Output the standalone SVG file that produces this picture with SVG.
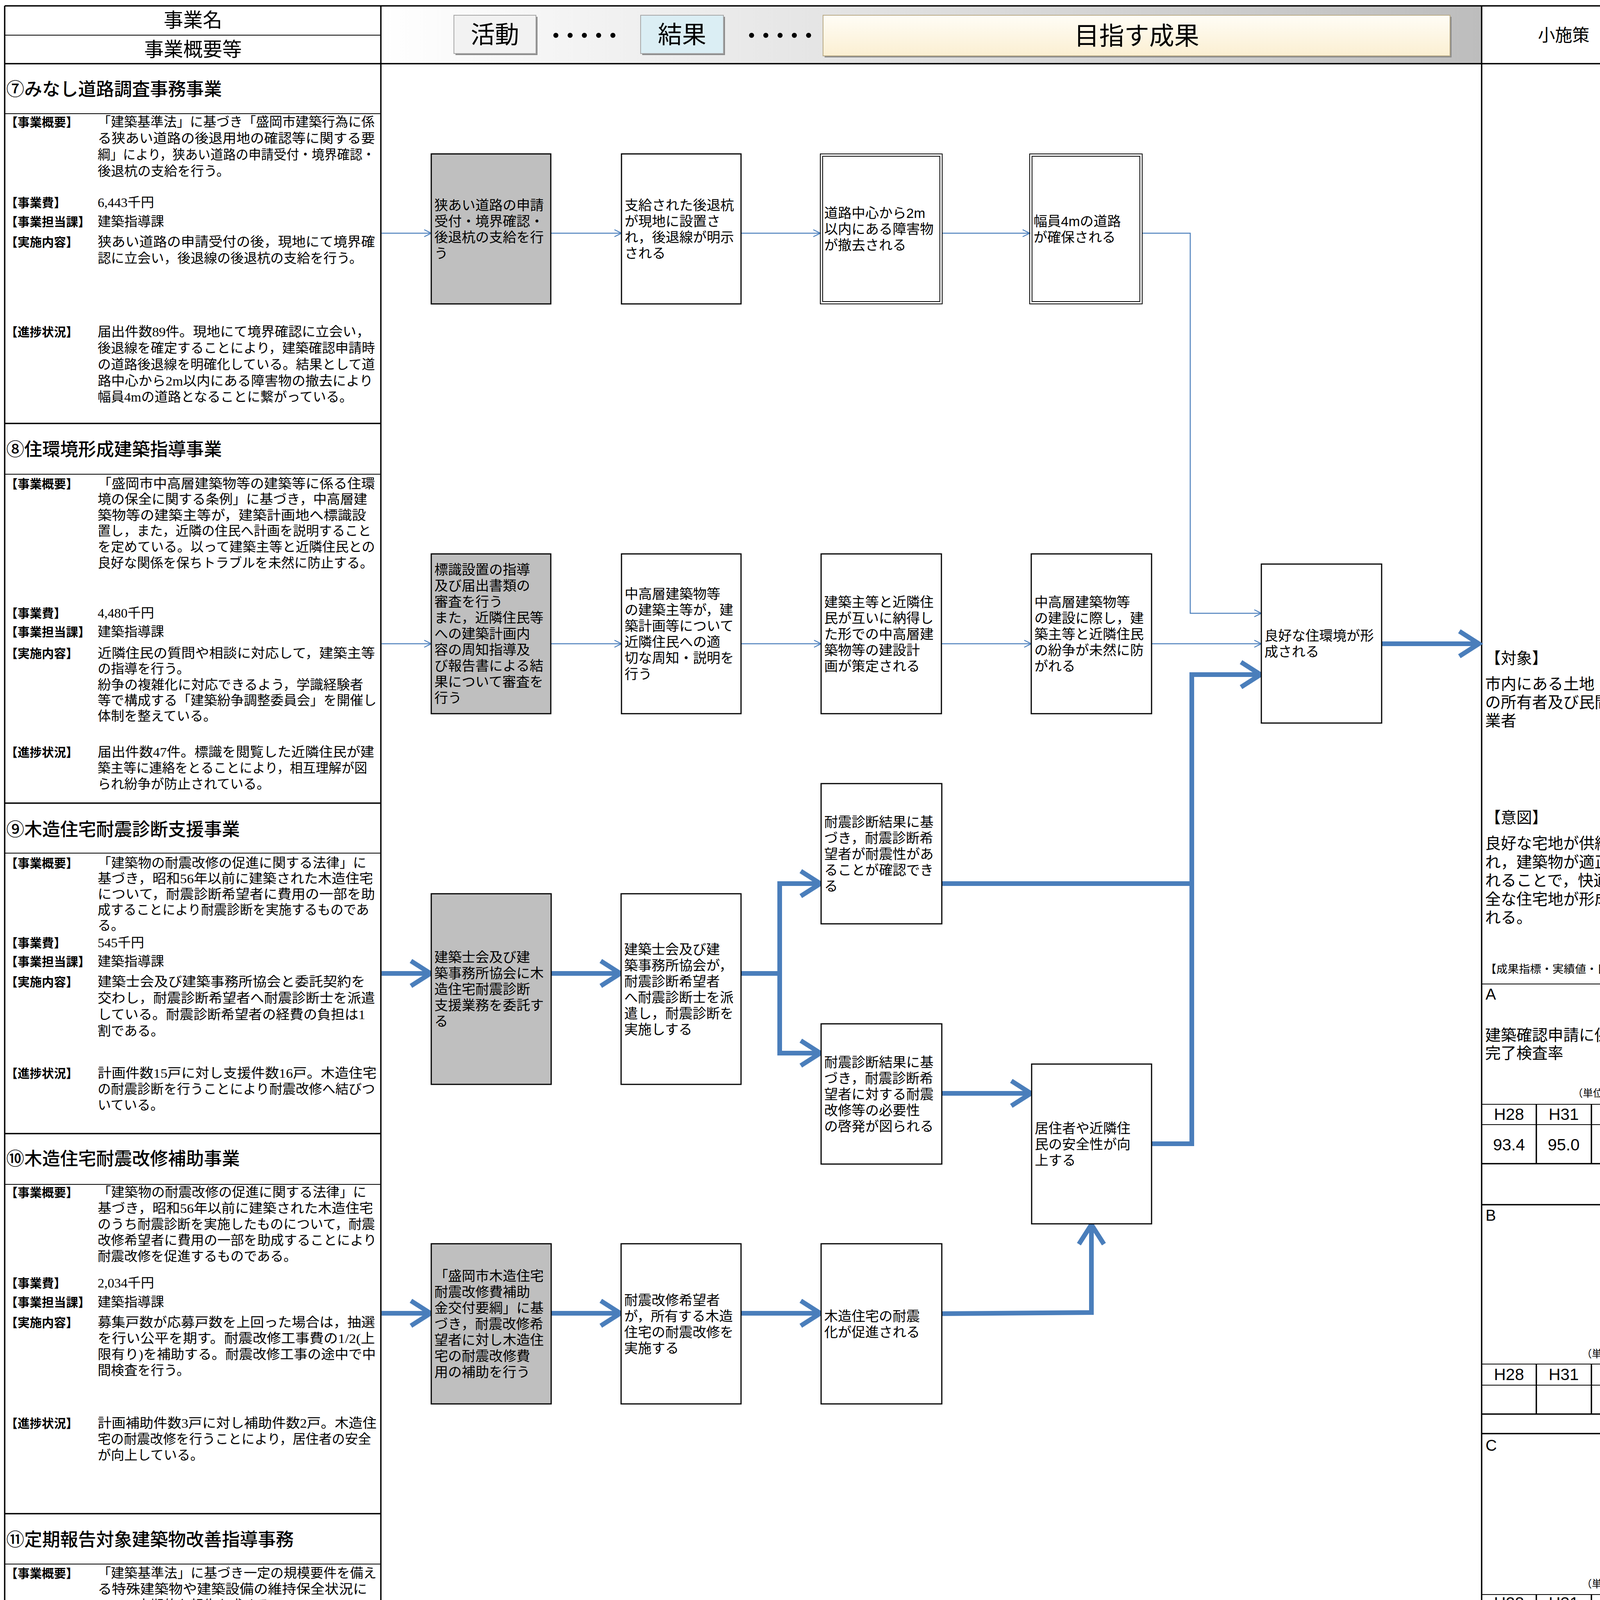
<svg xmlns="http://www.w3.org/2000/svg" width="4249" height="5716" viewBox="0 0 4249 5716">
<defs>
<style>
.t{font-family:"Liberation Serif","Noto Sans CJK JP",serif;font-size:34px;fill:#000}
.lb{font-family:"Noto Sans CJK JP",sans-serif;font-size:31px;font-weight:700;fill:#000}
.ttl{font-family:"Noto Sans CJK JP",sans-serif;font-size:46px;font-weight:500;fill:#000}
.hd{font-family:"Noto Sans CJK JP",sans-serif;font-size:50px;fill:#000}
.dots{font-family:"Noto Sans CJK JP",sans-serif;font-size:50px;font-weight:700;fill:#000}
.nd{font-family:"Liberation Sans","Noto Sans CJK JP",sans-serif;font-size:35px;fill:#000}
.rc{font-family:"Liberation Sans","Noto Sans CJK JP",sans-serif;font-size:40px;fill:#000}
.sm{font-family:"Liberation Sans","Noto Sans CJK JP",sans-serif;font-size:26px;fill:#000}
.tb{font-family:"Liberation Sans","Noto Sans CJK JP",sans-serif;font-size:42px;fill:#000;text-anchor:middle}
.bx{fill:#fff;stroke:#000;stroke-width:3}
.gy{fill:#bfbfbf;stroke:#000;stroke-width:3}
.db{fill:none;stroke:#000;stroke-width:2}
.ln{stroke:#000;stroke-width:2;fill:none}
.lk{stroke:#000;stroke-width:3.5;fill:none}
.thin{stroke:#4a7ebb;stroke-width:2.5;fill:none}
.thick{stroke:#4a7ebb;stroke-width:12;fill:none;stroke-linejoin:miter}
</style>
<linearGradient id="band" x1="0" y1="0" x2="1" y2="0">
<stop offset="0" stop-color="#ffffff"/><stop offset="1" stop-color="#bdbdbd"/>
</linearGradient>
<linearGradient id="goal" x1="0" y1="0" x2="0" y2="1">
<stop offset="0" stop-color="#fffdf6"/><stop offset="1" stop-color="#fbefd2"/>
</linearGradient>
<marker id="at" markerUnits="userSpaceOnUse" markerWidth="30" markerHeight="30" refX="22" refY="12" orient="auto" overflow="visible">
<path d="M4,3 L22,12 L4,21" fill="none" stroke="#4a7ebb" stroke-width="2.5"/>
</marker>
<marker id="ak" markerUnits="userSpaceOnUse" markerWidth="90" markerHeight="90" refX="64" refY="40" orient="auto" overflow="visible">
<path d="M12,8 L62,40 L12,72" fill="none" stroke="#4a7ebb" stroke-width="12" stroke-linejoin="miter"/>
</marker>
</defs>
<rect x="0" y="0" width="4249" height="5716" fill="#fff"/>

<!-- header band -->
<g id="header">
<rect x="975" y="15" width="2818" height="148" fill="url(#band)"/>
<rect x="1166" y="43" width="210" height="98" fill="#8c8c8c"/>
<rect x="1162" y="39" width="210" height="98" fill="#f2f2f2" stroke="#a6a6a6" stroke-width="2"/>
<text x="1267" y="111" class="hd" style="font-size:62px" text-anchor="middle">活動</text>
<text x="1398" y="109" class="dots" textLength="196" lengthAdjust="spacing">・・・・・</text>
<rect x="1644" y="43" width="212" height="98" fill="#8c8c8c"/>
<rect x="1640" y="39" width="212" height="98" fill="#dbeef4" stroke="#a6a6a6" stroke-width="2"/>
<text x="1746" y="111" class="hd" style="font-size:62px" text-anchor="middle">結果</text>
<text x="1899" y="109" class="dots" textLength="196" lengthAdjust="spacing">・・・・・</text>
<rect x="2111" y="43" width="1605" height="104" fill="#8c8c8c"/>
<rect x="2107" y="39" width="1605" height="104" fill="url(#goal)" stroke="#b8a984" stroke-width="2"/>
<text x="2910" y="114" class="hd" style="font-size:64px" text-anchor="middle">目指す成果</text>
</g>

<!-- frame -->
<g id="frame">
<line x1="12" y1="15" x2="4214" y2="15" class="lk"/>
<line x1="12" y1="15" x2="12" y2="5716" class="lk"/>
<line x1="975" y1="15" x2="975" y2="5716" class="lk"/>
<line x1="3793" y1="15" x2="3793" y2="5716" class="lk"/>
<line x1="4214" y1="15" x2="4214" y2="5716" class="lk" style="stroke-width:5"/>
<line x1="12" y1="90" x2="975" y2="90" class="ln"/>
<line x1="12" y1="163" x2="4214" y2="163" class="lk"/>
<line x1="12" y1="291" x2="975" y2="291" class="ln"/>
<line x1="12" y1="1084" x2="975" y2="1084" class="lk"/>
<line x1="12" y1="1214" x2="975" y2="1214" class="ln"/>
<line x1="12" y1="2056" x2="975" y2="2056" class="lk"/>
<line x1="12" y1="2184" x2="975" y2="2184" class="ln"/>
<line x1="12" y1="2902" x2="975" y2="2902" class="lk"/>
<line x1="12" y1="3032" x2="975" y2="3032" class="ln"/>
<line x1="12" y1="3875" x2="975" y2="3875" class="lk"/>
<line x1="12" y1="4004" x2="975" y2="4004" class="ln"/>
<line x1="12" y1="4849" x2="975" y2="4849" class="lk"/>
<line x1="12" y1="4978" x2="975" y2="4978" class="ln"/>
<text x="494" y="69" class="hd" text-anchor="middle">事業名</text>
<text x="494" y="144" class="hd" text-anchor="middle">事業概要等</text>
<text x="4003" y="106" class="hd" style="font-size:44px" text-anchor="middle">小施策</text>
</g>

<!-- left column: section 7 -->
<g id="sec7">
<text x="16" y="244" class="ttl">⑦みなし道路調査事務事業</text>
<text x="14" y="324" class="lb">【事業概要】</text>
<text x="250" y="324" class="t" textLength="709" lengthAdjust="spacingAndGlyphs">「建築基準法」に基づき「盛岡市建築行為に係</text>
<text x="250" y="366" class="t" textLength="710" lengthAdjust="spacingAndGlyphs">る狭あい道路の後退用地の確認等に関する要</text>
<text x="250" y="408" class="t" textLength="710" lengthAdjust="spacingAndGlyphs">綱」により，狭あい道路の申請受付・境界確認・</text>
<text x="250" y="450" class="t">後退杭の支給を行う。</text>
<text x="14" y="530" class="lb">【事業費】</text>
<text x="250" y="530" class="t">6,443千円</text>
<text x="14" y="579" class="lb">【事業担当課】</text>
<text x="250" y="579" class="t">建築指導課</text>
<text x="14" y="631" class="lb">【実施内容】</text>
<text x="250" y="631" class="t" textLength="710" lengthAdjust="spacingAndGlyphs">狭あい道路の申請受付の後，現地にて境界確</text>
<text x="250" y="673" class="t">認に立会い，後退線の後退杭の支給を行う。</text>
<text x="14" y="861" class="lb">【進捗状況】</text>
<text x="250" y="861" class="t" textLength="697" lengthAdjust="spacingAndGlyphs">届出件数89件。現地にて境界確認に立会い，</text>
<text x="250" y="903" class="t" textLength="710" lengthAdjust="spacingAndGlyphs">後退線を確定することにより，建築確認申請時</text>
<text x="250" y="945" class="t" textLength="710" lengthAdjust="spacingAndGlyphs">の道路後退線を明確化している。結果として道</text>
<text x="250" y="987" class="t" textLength="705" lengthAdjust="spacingAndGlyphs">路中心から2m以内にある障害物の撤去により</text>
<text x="250" y="1028" class="t">幅員4mの道路となることに繋がっている。</text>
</g>

<g id="sec8">
<text x="16" y="1166" class="ttl">⑧住環境形成建築指導事業</text>
<text x="14" y="1250" class="lb">【事業概要】</text>
<text x="250" y="1250" class="t" textLength="710" lengthAdjust="spacingAndGlyphs">「盛岡市中高層建築物等の建築等に係る住環</text>
<text x="250" y="1290" class="t" textLength="690" lengthAdjust="spacingAndGlyphs">境の保全に関する条例」に基づき，中高層建</text>
<text x="250" y="1331" class="t" textLength="687" lengthAdjust="spacingAndGlyphs">築物等の建築主等が，建築計画地へ標識設</text>
<text x="250" y="1371" class="t" textLength="700" lengthAdjust="spacingAndGlyphs">置し，また，近隣の住民へ計画を説明すること</text>
<text x="250" y="1412" class="t" textLength="710" lengthAdjust="spacingAndGlyphs">を定めている。以って建築主等と近隣住民との</text>
<text x="250" y="1453" class="t" textLength="705" lengthAdjust="spacingAndGlyphs">良好な関係を保ちトラブルを未然に防止する。</text>
<text x="14" y="1581" class="lb">【事業費】</text>
<text x="250" y="1581" class="t">4,480千円</text>
<text x="14" y="1629" class="lb">【事業担当課】</text>
<text x="250" y="1629" class="t">建築指導課</text>
<text x="14" y="1684" class="lb">【実施内容】</text>
<text x="250" y="1684" class="t" textLength="710" lengthAdjust="spacingAndGlyphs">近隣住民の質問や相談に対応して，建築主等</text>
<text x="250" y="1724" class="t">の指導を行う。</text>
<text x="250" y="1765" class="t" textLength="680" lengthAdjust="spacingAndGlyphs">紛争の複雑化に対応できるよう，学識経験者</text>
<text x="250" y="1805" class="t" textLength="714" lengthAdjust="spacingAndGlyphs">等で構成する「建築紛争調整委員会」を開催し</text>
<text x="250" y="1845" class="t">体制を整えている。</text>
<text x="14" y="1937" class="lb">【進捗状況】</text>
<text x="250" y="1937" class="t" textLength="708" lengthAdjust="spacingAndGlyphs">届出件数47件。標識を閲覧した近隣住民が建</text>
<text x="250" y="1978" class="t" textLength="690" lengthAdjust="spacingAndGlyphs">築主等に連絡をとることにより，相互理解が図</text>
<text x="250" y="2019" class="t">られ紛争が防止されている。</text>
</g>

<g id="sec9">
<text x="16" y="2139" class="ttl">⑨木造住宅耐震診断支援事業</text>
<text x="14" y="2221" class="lb">【事業概要】</text>
<text x="250" y="2221" class="t" textLength="688" lengthAdjust="spacingAndGlyphs">「建築物の耐震改修の促進に関する法律」に</text>
<text x="250" y="2261" class="t" textLength="705" lengthAdjust="spacingAndGlyphs">基づき，昭和56年以前に建築された木造住宅</text>
<text x="250" y="2301" class="t" textLength="710" lengthAdjust="spacingAndGlyphs">について，耐震診断希望者に費用の一部を助</text>
<text x="250" y="2341" class="t" textLength="695" lengthAdjust="spacingAndGlyphs">成することにより耐震診断を実施するものであ</text>
<text x="250" y="2381" class="t">る。</text>
<text x="14" y="2425" class="lb">【事業費】</text>
<text x="250" y="2425" class="t">545千円</text>
<text x="14" y="2473" class="lb">【事業担当課】</text>
<text x="250" y="2473" class="t">建築指導課</text>
<text x="14" y="2525" class="lb">【実施内容】</text>
<text x="250" y="2525" class="t" textLength="685" lengthAdjust="spacingAndGlyphs">建築士会及び建築事務所協会と委託契約を</text>
<text x="250" y="2567" class="t" textLength="710" lengthAdjust="spacingAndGlyphs">交わし，耐震診断希望者へ耐震診断士を派遣</text>
<text x="250" y="2609" class="t" textLength="685" lengthAdjust="spacingAndGlyphs">している。耐震診断希望者の経費の負担は1</text>
<text x="250" y="2651" class="t">割である。</text>
<text x="14" y="2759" class="lb">【進捗状況】</text>
<text x="250" y="2759" class="t" textLength="714" lengthAdjust="spacingAndGlyphs">計画件数15戸に対し支援件数16戸。木造住宅</text>
<text x="250" y="2800" class="t" textLength="710" lengthAdjust="spacingAndGlyphs">の耐震診断を行うことにより耐震改修へ結びつ</text>
<text x="250" y="2841" class="t">いている。</text>
</g>

<g id="sec10">
<text x="16" y="2982" class="ttl">⑩木造住宅耐震改修補助事業</text>
<text x="14" y="3064" class="lb">【事業概要】</text>
<text x="250" y="3064" class="t" textLength="688" lengthAdjust="spacingAndGlyphs">「建築物の耐震改修の促進に関する法律」に</text>
<text x="250" y="3105" class="t" textLength="705" lengthAdjust="spacingAndGlyphs">基づき，昭和56年以前に建築された木造住宅</text>
<text x="250" y="3146" class="t" textLength="710" lengthAdjust="spacingAndGlyphs">のうち耐震診断を実施したものについて，耐震</text>
<text x="250" y="3187" class="t" textLength="714" lengthAdjust="spacingAndGlyphs">改修希望者に費用の一部を助成することにより</text>
<text x="250" y="3228" class="t">耐震改修を促進するものである。</text>
<text x="14" y="3296" class="lb">【事業費】</text>
<text x="250" y="3296" class="t">2,034千円</text>
<text x="14" y="3345" class="lb">【事業担当課】</text>
<text x="250" y="3345" class="t">建築指導課</text>
<text x="14" y="3397" class="lb">【実施内容】</text>
<text x="250" y="3397" class="t" textLength="710" lengthAdjust="spacingAndGlyphs">募集戸数が応募戸数を上回った場合は，抽選</text>
<text x="250" y="3438" class="t" textLength="710" lengthAdjust="spacingAndGlyphs">を行い公平を期す。耐震改修工事費の1/2(上</text>
<text x="250" y="3479" class="t" textLength="712" lengthAdjust="spacingAndGlyphs">限有り)を補助する。耐震改修工事の途中で中</text>
<text x="250" y="3520" class="t">間検査を行う。</text>
<text x="14" y="3655" class="lb">【進捗状況】</text>
<text x="250" y="3655" class="t" textLength="714" lengthAdjust="spacingAndGlyphs">計画補助件数3戸に対し補助件数2戸。木造住</text>
<text x="250" y="3696" class="t" textLength="700" lengthAdjust="spacingAndGlyphs">宅の耐震改修を行うことにより，居住者の安全</text>
<text x="250" y="3737" class="t">が向上している。</text>
</g>

<g id="sec11">
<text x="16" y="3957" class="ttl">⑪定期報告対象建築物改善指導事務</text>
<text x="14" y="4039" class="lb">【事業概要】</text>
<text x="250" y="4039" class="t" textLength="714" lengthAdjust="spacingAndGlyphs">「建築基準法」に基づき一定の規模要件を備え</text>
<text x="250" y="4080" class="t" textLength="690" lengthAdjust="spacingAndGlyphs">る特殊建築物や建築設備の維持保全状況に</text>
<text x="250" y="4121" class="t">ついて定期的な報告を求める。</text>
<text x="14" y="4270" class="lb">【事業費】</text>
<text x="250" y="4270" class="t">7,886千円</text>
<text x="14" y="4321" class="lb">【事業担当課】</text>
<text x="250" y="4321" class="t">建築指導課</text>
<text x="14" y="4370" class="lb">【実施内容】</text>
<text x="250" y="4370" class="t" textLength="685" lengthAdjust="spacingAndGlyphs">特殊建築物：用途別に3年に一度，建築物の</text>
<text x="250" y="4412" class="t" textLength="712" lengthAdjust="spacingAndGlyphs">構造・防火性能・避難規定等の状況を調査・報</text>
<text x="250" y="4453" class="t">告されるものの審査・指導を行う。</text>
<text x="250" y="4495" class="t" textLength="682" lengthAdjust="spacingAndGlyphs">建築設備：毎年，作動状況について検査・報</text>
<text x="250" y="4536" class="t">告されるものの審査・指導を行う。</text>
<text x="14" y="4625" class="lb">【進捗状況】</text>
<text x="250" y="4625" class="t" textLength="670" lengthAdjust="spacingAndGlyphs">報告件数，特殊建築物143件，昇降機1,651</text>
<text x="250" y="4666" class="t" textLength="685" lengthAdjust="spacingAndGlyphs">件，建築設備551件，防火設備46件。法定事</text>
<text x="250" y="4707" class="t" textLength="690" lengthAdjust="spacingAndGlyphs">務を履行することにより，対象建築物・建築設</text>
<text x="250" y="4748" class="t">備の維持管理が図られている。</text>
</g>

<g id="sec12">
<text x="16" y="4933" class="ttl">⑫建築物耐震診断・耐震改修促進指導事業</text>
<text x="14" y="5012" class="lb">【事業概要】</text>
<text x="250" y="5012" class="t" textLength="688" lengthAdjust="spacingAndGlyphs">「建築物の耐震改修の促進に関する法律」に</text>
<text x="250" y="5053" class="t" textLength="710" lengthAdjust="spacingAndGlyphs">基づき，不特定多数の者が利用する耐震診断</text>
<text x="250" y="5094" class="t" textLength="685" lengthAdjust="spacingAndGlyphs">義務化の建築物の所有者へ，耐震診断の費</text>
<text x="250" y="5135" class="t">用を助成し，都市基盤を維持・強化する。</text>
<text x="14" y="5193" class="lb">【事業費】</text>
<text x="250" y="5193" class="t">8, 299千円</text>
<text x="14" y="5241" class="lb">【事業担当課】</text>
<text x="250" y="5241" class="t">建築指導課</text>
<text x="14" y="5295" class="lb">【実施内容】</text>
<text x="250" y="5295" class="t" textLength="708" lengthAdjust="spacingAndGlyphs">不特定多数の者が利用する階数3以上かつ延</text>
<text x="250" y="5336" class="t" textLength="695" lengthAdjust="spacingAndGlyphs">面積5,000㎡以上のホテルや物品販売業を営</text>
<text x="250" y="5377" class="t" textLength="685" lengthAdjust="spacingAndGlyphs">む店舗の所有者へ耐震診断の費用を助成す</text>
<text x="250" y="5418" class="t">る。</text>
<text x="14" y="5524" class="lb">【進捗状況】</text>
<text x="250" y="5524" class="t" textLength="695" lengthAdjust="spacingAndGlyphs">平成27年度からの繰越1物件（ホテル）につい</text>
<text x="250" y="5564" class="t">て,平成28年度で完了した。</text>
</g>

<!-- right column -->
<g id="smallpolicy">
<text x="3802" y="1699" class="rc">【対象】</text>
<text x="3802" y="1765" class="rc">市内にある土地・建物</text>
<text x="3802" y="1812" class="rc">の所有者及び民間事</text>
<text x="3802" y="1859" class="rc">業者</text>
<text x="3802" y="2107" class="rc">【意図】</text>
<text x="3802" y="2173" class="rc">良好な宅地が供給さ</text>
<text x="3802" y="2221" class="rc">れ，建築物が適正化さ</text>
<text x="3802" y="2268" class="rc">れることで，快適で安</text>
<text x="3802" y="2316" class="rc">全な住宅地が形成さ</text>
<text x="3802" y="2363" class="rc">れる。</text>
<text x="3802" y="2491" class="rc" style="font-size:28px" textLength="402" lengthAdjust="spacingAndGlyphs">【成果指標・実績値・目標値】</text>
<line x1="3793" y1="2519" x2="4214" y2="2519" class="ln"/>
<text x="3803" y="2559" class="rc">A</text>
<text x="3802" y="2664" class="rc">建築確認申請に係る</text>
<text x="3802" y="2710" class="rc">完了検査率</text>
<text x="4205" y="2808" class="sm" text-anchor="end">（単位　%　）</text>
<line x1="3793" y1="2827" x2="4214" y2="2827" class="ln"/>
<line x1="3793" y1="2879" x2="4214" y2="2879" class="ln"/>
<line x1="3793" y1="2979" x2="4214" y2="2979" class="lk"/>
<line x1="3933" y1="2827" x2="3933" y2="2979" class="lk"/>
<line x1="4074" y1="2827" x2="4074" y2="2979" class="lk"/>
<text x="3863" y="2867" class="tb">H28</text>
<text x="4003" y="2867" class="tb">H31</text>
<text x="4143" y="2867" class="tb">H36</text>
<text x="3863" y="2945" class="tb">93.4</text>
<text x="4003" y="2945" class="tb">95.0</text>
<text x="4143" y="2945" class="tb">95.0</text>
<line x1="3793" y1="3084" x2="4214" y2="3084" class="lk"/>
<text x="3803" y="3125" class="rc">B</text>
<text x="4205" y="3475" class="sm" text-anchor="end">（単位　　）</text>
<line x1="3793" y1="3492" x2="4214" y2="3492" class="ln"/>
<line x1="3793" y1="3546" x2="4214" y2="3546" class="ln"/>
<line x1="3793" y1="3620" x2="4214" y2="3620" class="lk"/>
<line x1="3933" y1="3492" x2="3933" y2="3620" class="lk"/>
<line x1="4074" y1="3492" x2="4074" y2="3620" class="lk"/>
<text x="3863" y="3533" class="tb">H28</text>
<text x="4003" y="3533" class="tb">H31</text>
<text x="4143" y="3533" class="tb">H36</text>
<line x1="3793" y1="3670" x2="4214" y2="3670" class="lk"/>
<text x="3803" y="3714" class="rc">C</text>
<text x="4205" y="4064" class="sm" text-anchor="end">（単位　　）</text>
<line x1="3793" y1="4082" x2="4214" y2="4082" class="ln"/>
<line x1="3793" y1="4132" x2="4214" y2="4132" class="ln"/>
<line x1="3793" y1="4209" x2="4214" y2="4209" class="lk"/>
<line x1="3933" y1="4082" x2="3933" y2="4209" class="lk"/>
<line x1="4074" y1="4082" x2="4074" y2="4209" class="lk"/>
<text x="3863" y="4118" class="tb">H28</text>
<text x="4003" y="4118" class="tb">H31</text>
<text x="4143" y="4118" class="tb">H36</text>
</g>

<!-- connectors -->
<g id="connectors">
<line x1="977" y1="597" x2="1104" y2="597" class="thin" marker-end="url(#at)"/>
<line x1="1410" y1="597" x2="1591" y2="597" class="thin" marker-end="url(#at)"/>
<line x1="1897" y1="597" x2="2100" y2="597" class="thin" marker-end="url(#at)"/>
<line x1="2412" y1="597" x2="2636" y2="597" class="thin" marker-end="url(#at)"/>
<polyline points="2924,597 3047,597 3047,1570 3229,1570" class="thin" marker-end="url(#at)"/>
<line x1="977" y1="1648" x2="1104" y2="1648" class="thin" marker-end="url(#at)"/>
<line x1="1410" y1="1648" x2="1591" y2="1648" class="thin" marker-end="url(#at)"/>
<line x1="1897" y1="1648" x2="2102" y2="1648" class="thin" marker-end="url(#at)"/>
<line x1="2410" y1="1648" x2="2640" y2="1648" class="thin" marker-end="url(#at)"/>
<line x1="2948" y1="1648" x2="3229" y2="1648" class="thin" marker-end="url(#at)"/>
<line x1="3537" y1="1648" x2="3788" y2="1648" class="thick" marker-end="url(#ak)"/>
<line x1="977" y1="2492" x2="1104" y2="2492" class="thick" marker-end="url(#ak)"/>
<line x1="1411" y1="2492" x2="1590" y2="2492" class="thick" marker-end="url(#ak)"/>
<polyline points="1897,2492 1996,2492" class="thick"/>
<polyline points="1996,2492 1996,2262 2102,2262" class="thick" marker-end="url(#ak)"/>
<polyline points="1996,2492 1996,2696 2102,2696" class="thick" marker-end="url(#ak)"/>
<line x1="2411" y1="2262" x2="3051" y2="2262" class="thick"/>
<line x1="2411" y1="2799" x2="2641" y2="2799" class="thick" marker-end="url(#ak)"/>
<polyline points="2948,2928 3051,2928 3051,1727 3229,1727" class="thick" marker-end="url(#ak)"/>
<line x1="977" y1="3362" x2="1104" y2="3362" class="thick" marker-end="url(#ak)"/>
<line x1="1411" y1="3362" x2="1590" y2="3362" class="thick" marker-end="url(#ak)"/>
<line x1="1897" y1="3362" x2="2102" y2="3362" class="thick" marker-end="url(#ak)"/>
<polyline points="2411,3363 2794,3360 2794,3133" class="thick" marker-end="url(#ak)"/>
<line x1="977" y1="4336" x2="1104" y2="4336" class="thin" marker-end="url(#at)"/>
<line x1="1411" y1="4336" x2="1590" y2="4336" class="thin" marker-end="url(#at)"/>
<line x1="1897" y1="4336" x2="2102" y2="4336" class="thin" marker-end="url(#at)"/>
<line x1="2411" y1="4336" x2="2641" y2="4336" class="thin" marker-end="url(#at)"/>
<polyline points="2923,4336 3047,4336 3047,5716" class="thin"/>
<line x1="977" y1="5258" x2="1104" y2="5258" class="thin" marker-end="url(#at)"/>
<line x1="1411" y1="5258" x2="1590" y2="5258" class="thin" marker-end="url(#at)"/>
<line x1="1897" y1="5258" x2="2102" y2="5258" class="thin" marker-end="url(#at)"/>
<line x1="2411" y1="5258" x2="2641" y2="5258" class="thin" marker-end="url(#at)"/>
<line x1="2948" y1="5258" x2="3230" y2="5258" class="thin" marker-end="url(#at)"/>
<line x1="3537" y1="5258" x2="3791" y2="5258" class="thin" marker-end="url(#at)"/>
</g>

<!-- nodes -->
<g id="n7a"><rect x="1104" y="394" width="306" height="384" class="gy"/>
<text class="nd"><tspan x="1112" y="538">狭あい道路の申請</tspan><tspan x="1112" y="579">受付・境界確認・</tspan><tspan x="1112" y="620">後退杭の支給を行</tspan><tspan x="1112" y="661">う</tspan></text></g>
<g id="n7b"><rect x="1591" y="394" width="306" height="384" class="bx"/>
<text class="nd"><tspan x="1599" y="538">支給された後退杭</tspan><tspan x="1599" y="579">が現地に設置さ</tspan><tspan x="1599" y="620">れ，後退線が明示</tspan><tspan x="1599" y="661">される</tspan></text></g>
<g id="n7c"><rect x="2100" y="394" width="312" height="384" class="db"/><rect x="2106" y="400" width="300" height="372" class="db"/>
<text class="nd"><tspan x="2110" y="558">道路中心から2m</tspan><tspan x="2110" y="599">以内にある障害物</tspan><tspan x="2110" y="640">が撤去される</tspan></text></g>
<g id="n7d"><rect x="2636" y="394" width="288" height="384" class="db"/><rect x="2642" y="400" width="276" height="372" class="db"/>
<text class="nd"><tspan x="2646" y="579">幅員4mの道路</tspan><tspan x="2646" y="620">が確保される</tspan></text></g>

<g id="n8a"><rect x="1104" y="1418" width="306" height="409" class="gy"/>
<text class="nd"><tspan x="1112" y="1471">標識設置の指導</tspan><tspan x="1112" y="1512">及び届出書類の</tspan><tspan x="1112" y="1553">審査を行う</tspan><tspan x="1112" y="1594">また，近隣住民等</tspan><tspan x="1112" y="1635">への建築計画内</tspan><tspan x="1112" y="1676">容の周知指導及</tspan><tspan x="1112" y="1717">び報告書による結</tspan><tspan x="1112" y="1758">果について審査を</tspan><tspan x="1112" y="1799">行う</tspan></text></g>
<g id="n8b"><rect x="1591" y="1418" width="306" height="409" class="bx"/>
<text class="nd"><tspan x="1599" y="1533">中高層建築物等</tspan><tspan x="1599" y="1574">の建築主等が，建</tspan><tspan x="1599" y="1615">築計画等について</tspan><tspan x="1599" y="1656">近隣住民への適</tspan><tspan x="1599" y="1697">切な周知・説明を</tspan><tspan x="1599" y="1738">行う</tspan></text></g>
<g id="n8c"><rect x="2102" y="1418" width="308" height="409" class="bx"/>
<text class="nd"><tspan x="2110" y="1554">建築主等と近隣住</tspan><tspan x="2110" y="1595">民が互いに納得し</tspan><tspan x="2110" y="1636">た形での中高層建</tspan><tspan x="2110" y="1677">築物等の建設計</tspan><tspan x="2110" y="1718">画が策定される</tspan></text></g>
<g id="n8d"><rect x="2640" y="1418" width="308" height="409" class="bx"/>
<text class="nd"><tspan x="2648" y="1554">中高層建築物等</tspan><tspan x="2648" y="1595">の建設に際し，建</tspan><tspan x="2648" y="1636">築主等と近隣住民</tspan><tspan x="2648" y="1677">の紛争が未然に防</tspan><tspan x="2648" y="1718">がれる</tspan></text></g>
<g id="ngood"><rect x="3229" y="1444" width="308" height="407" class="bx"/>
<text class="nd"><tspan x="3237" y="1640">良好な住環境が形</tspan><tspan x="3237" y="1681">成される</tspan></text></g>

<g id="n9a"><rect x="1104" y="2288" width="307" height="488" class="gy"/>
<text class="nd"><tspan x="1112" y="2463">建築士会及び建</tspan><tspan x="1112" y="2504">築事務所協会に木</tspan><tspan x="1112" y="2545">造住宅耐震診断</tspan><tspan x="1112" y="2586">支援業務を委託す</tspan><tspan x="1112" y="2627">る</tspan></text></g>
<g id="n9b"><rect x="1590" y="2288" width="307" height="488" class="bx"/>
<text class="nd"><tspan x="1598" y="2443">建築士会及び建</tspan><tspan x="1598" y="2484">築事務所協会が，</tspan><tspan x="1598" y="2525">耐震診断希望者</tspan><tspan x="1598" y="2566">へ耐震診断士を派</tspan><tspan x="1598" y="2607">遣し，耐震診断を</tspan><tspan x="1598" y="2648">実施しする</tspan></text></g>
<g id="n9c1"><rect x="2102" y="2006" width="309" height="359" class="bx"/>
<text class="nd"><tspan x="2110" y="2117">耐震診断結果に基</tspan><tspan x="2110" y="2158">づき，耐震診断希</tspan><tspan x="2110" y="2199">望者が耐震性があ</tspan><tspan x="2110" y="2240">ることが確認でき</tspan><tspan x="2110" y="2281">る</tspan></text></g>
<g id="n9c2"><rect x="2102" y="2621" width="309" height="359" class="bx"/>
<text class="nd"><tspan x="2110" y="2732">耐震診断結果に基</tspan><tspan x="2110" y="2773">づき，耐震診断希</tspan><tspan x="2110" y="2814">望者に対する耐震</tspan><tspan x="2110" y="2855">改修等の必要性</tspan><tspan x="2110" y="2896">の啓発が図られる</tspan></text></g>
<g id="nsafe"><rect x="2641" y="2724" width="307" height="409" class="bx"/>
<text class="nd"><tspan x="2649" y="2901">居住者や近隣住</tspan><tspan x="2649" y="2942">民の安全性が向</tspan><tspan x="2649" y="2983">上する</tspan></text></g>

<g id="n10a"><rect x="1104" y="3184" width="307" height="410" class="gy"/>
<text class="nd"><tspan x="1112" y="3279">「盛岡市木造住宅</tspan><tspan x="1112" y="3320">耐震改修費補助</tspan><tspan x="1112" y="3361">金交付要綱」に基</tspan><tspan x="1112" y="3402">づき，耐震改修希</tspan><tspan x="1112" y="3443">望者に対し木造住</tspan><tspan x="1112" y="3484">宅の耐震改修費</tspan><tspan x="1112" y="3525">用の補助を行う</tspan></text></g>
<g id="n10b"><rect x="1590" y="3184" width="307" height="410" class="bx"/>
<text class="nd"><tspan x="1598" y="3341">耐震改修希望者</tspan><tspan x="1598" y="3382">が，所有する木造</tspan><tspan x="1598" y="3423">住宅の耐震改修を</tspan><tspan x="1598" y="3464">実施する</tspan></text></g>
<g id="n10c"><rect x="2102" y="3184" width="309" height="410" class="bx"/>
<text class="nd"><tspan x="2110" y="3382">木造住宅の耐震</tspan><tspan x="2110" y="3423">化が促進される</tspan></text></g>

<g id="n11a"><rect x="1104" y="4133" width="307" height="383" class="gy"/>
<text class="nd"><tspan x="1112" y="4235">対象建築物・建築</tspan><tspan x="1112" y="4276">設備の報告を受</tspan><tspan x="1112" y="4317">け，報告書の内容</tspan><tspan x="1112" y="4358">を審査し，必要に</tspan><tspan x="1112" y="4399">応じて改善指導を</tspan><tspan x="1112" y="4440">行う</tspan></text></g>
<g id="n11b"><rect x="1590" y="4133" width="307" height="383" class="bx"/>
<text class="nd"><tspan x="1598" y="4215">対象建築物・建築</tspan><tspan x="1598" y="4256">設備の維持保全</tspan><tspan x="1598" y="4297">状況が把握される</tspan><tspan x="1598" y="4338" textLength="294" lengthAdjust="spacingAndGlyphs">とともに，対象物の</tspan><tspan x="1598" y="4379">所有者が適正化に</tspan><tspan x="1598" y="4420">向けた指導を受け</tspan><tspan x="1598" y="4461">る</tspan></text></g>
<g id="n11c"><rect x="2102" y="4133" width="309" height="383" class="bx"/>
<text class="nd"><tspan x="2110" y="4297">対象建築物・建築</tspan><tspan x="2110" y="4338">設備が適正に維持</tspan><tspan x="2110" y="4379">保全される</tspan></text></g>
<g id="n11d"><rect x="2641" y="4133" width="282" height="383" class="bx"/>
<text class="nd"><tspan x="2649" y="4297">都市資本として</tspan><tspan x="2649" y="4338">の住環境が良好</tspan><tspan x="2649" y="4379">になる</tspan></text></g>

<g id="n12a"><rect x="1104" y="5079" width="307" height="387" class="gy"/>
<text class="nd"><tspan x="1112" y="5163">「盛岡市建築物耐</tspan><tspan x="1112" y="5204">震対策促進事業</tspan><tspan x="1112" y="5245">補助金交付要綱」</tspan><tspan x="1112" y="5286">に基づき，義務化</tspan><tspan x="1112" y="5327">建築物の所有者</tspan><tspan x="1112" y="5368">へ耐震診断の費</tspan><tspan x="1112" y="5409">用を助成する</tspan></text></g>
<g id="n12b"><rect x="1590" y="5079" width="307" height="387" class="bx"/>
<text class="nd"><tspan x="1598" y="5204">不特定多数の者</tspan><tspan x="1598" y="5245">が利用する耐震診</tspan><tspan x="1598" y="5286">断義務化の建築</tspan><tspan x="1598" y="5327">物の所有者が，耐</tspan><tspan x="1598" y="5368">震診断を実施する</tspan></text></g>
<g id="n12c"><rect x="2102" y="5079" width="309" height="387" class="bx"/>
<text class="nd"><tspan x="2110" y="5183">耐震診断結果に基</tspan><tspan x="2110" y="5224">づき，利用する耐</tspan><tspan x="2110" y="5265">震診断義務化の</tspan><tspan x="2110" y="5306">建築物の所有者</tspan><tspan x="2110" y="5347">が，耐震改修を実</tspan><tspan x="2110" y="5388">施する</tspan></text></g>
<g id="n12d"><rect x="2641" y="5079" width="307" height="387" class="bx"/>
<text class="nd"><tspan x="2649" y="5224">不特定多数の者</tspan><tspan x="2649" y="5265">が利用する建築物</tspan><tspan x="2649" y="5306">の耐震化が促進さ</tspan><tspan x="2649" y="5347">れる</tspan></text></g>
<g id="nbase"><rect x="3230" y="5080" width="307" height="383" class="bx"/>
<text class="nd"><tspan x="3238" y="5264">都市基盤の維持・</tspan><tspan x="3238" y="5305">強化が促進される</tspan></text></g>
</svg>
